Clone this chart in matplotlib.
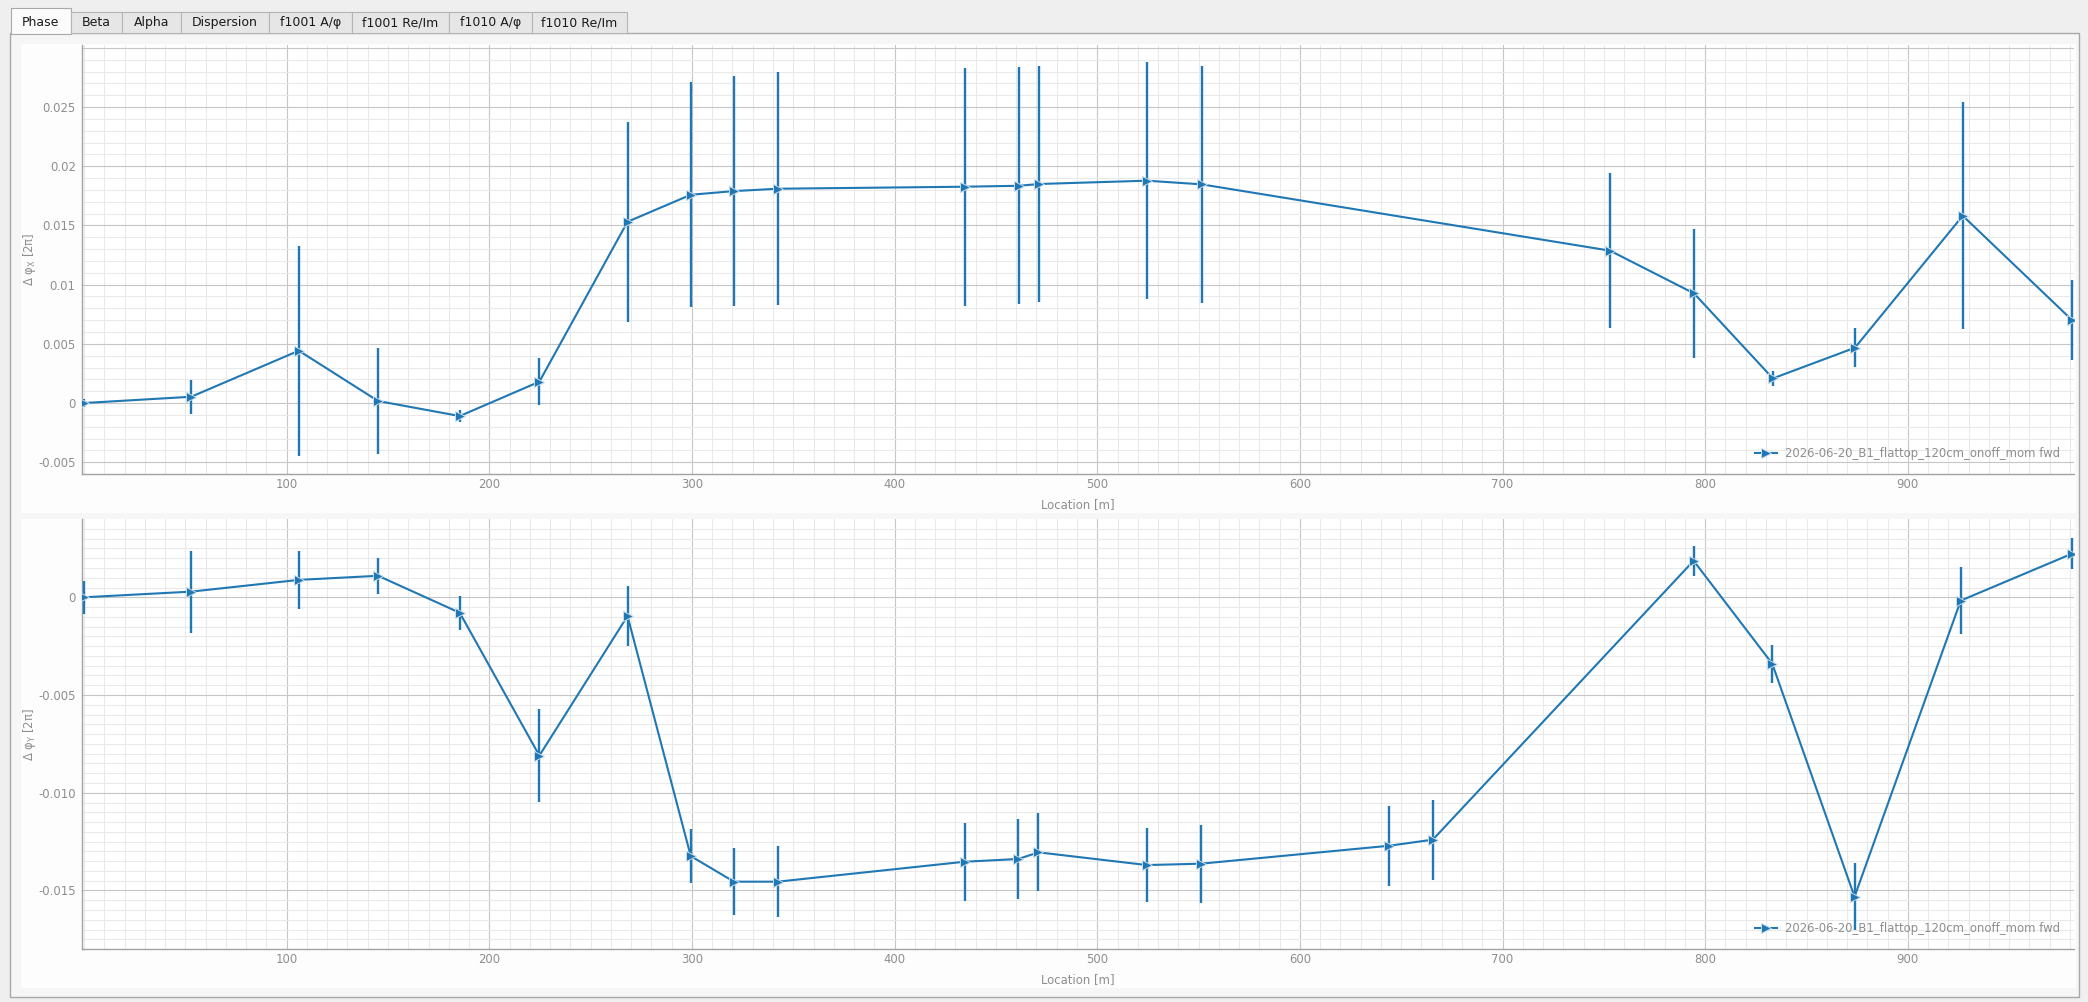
import matplotlib
matplotlib.use("Agg")
import matplotlib.pyplot as plt
from matplotlib.patches import Rectangle
from matplotlib.ticker import FixedLocator, FixedFormatter, MultipleLocator

# horizontal phase difference
x_loc = [0, 52.9, 106.0, 145.1, 185.4, 224.7, 268.2, 299.4, 320.7, 342.3,
         434.6, 461.3, 471.3, 524.5, 551.5, 753.0, 794.5, 833.4, 873.9, 927.1, 981.0]
x_dphi = [0.0, 0.00053, 0.00442, 0.00017, -0.0011, 0.0018, 0.01531, 0.01759, 0.0179, 0.0181,
          0.01827, 0.01835, 0.0185, 0.01878, 0.01847, 0.01287, 0.00926, 0.00208, 0.00467, 0.01582, 0.00701]
x_err = [0.0003, 0.00143, 0.00886, 0.00445, 0.0005, 0.00197, 0.00843, 0.00952, 0.00974, 0.00982,
         0.01004, 0.01, 0.01, 0.01, 0.01, 0.00656, 0.00543, 0.0006, 0.00164, 0.0096, 0.00334]

# vertical phase difference
y_loc = [0, 52.9, 106.0, 145.1, 185.4, 224.7, 268.2, 299.4, 320.7, 342.3,
         434.5, 461.0, 471.0, 524.5, 551.2, 644.2, 665.6, 794.3, 833.1, 873.7, 926.1, 981.0]
y_dphi = [0.0, 0.00029, 0.00089, 0.0011, -0.00079, -0.0081, -0.00096, -0.01324, -0.01455, -0.01455,
          -0.01353, -0.01339, -0.01305, -0.0137, -0.01363, -0.01271, -0.0124,
          0.00187, -0.0034, -0.01532, -0.00017, 0.00223]
y_err = [0.00083, 0.0021, 0.00149, 0.00091, 0.00087, 0.00236, 0.00155, 0.00138, 0.00173, 0.00183,
         0.002, 0.00204, 0.002, 0.00191, 0.00199, 0.00205, 0.00204,
         0.00076, 0.00097, 0.0017, 0.0017, 0.0008]

label = "2026-06-20_B1_flattop_120cm_onoff_mom fwd"
tabs = ["Phase", "Beta", "Alpha", "Dispersion", "f1001 A/φ", "f1001 Re/Im", "f1010 A/φ", "f1010 Re/Im"]
tab_edges = [10.5, 70.5, 121.5, 181, 269, 352, 449, 532, 627]

xticks = [100, 200, 300, 400, 500, 600, 700, 800, 900]
top_yticks = [-0.005, 0, 0.005, 0.01, 0.015, 0.02, 0.025, 0.03]
top_ylabels = ['-0.005', '0', '0.005', '0.01', '0.015', '0.02', '0.025', '']
bot_yticks = [-0.015, -0.01, -0.005, 0]
bot_ylabels = ['-0.015', '-0.010', '-0.005', '0']

W, H = 2088, 1002
blue = '#1f77b4'
gray_txt = '#8e8e8e'
fs = 8.4

fig = plt.figure(figsize=(W / 100, H / 100), dpi=100, facecolor='#efefef')


def box(x0, y0, x1, y1, fc, ec='none', lw=1.0):
    # pixel coords from top-left, drawn behind the axes
    r = Rectangle((x0 / W, 1 - y1 / H), (x1 - x0) / W, (y1 - y0) / H,
                  transform=fig.transFigure, facecolor=fc, edgecolor=ec, lw=lw, zorder=-5)
    fig.add_artist(r)


# panel + canvases
box(10, 33, 2079, 997, '#f6f6f6', '#a9a9a9', 1.0)
box(21, 44, 2076, 513, '#fdfdfd')
box(21, 519, 2076, 988, '#fdfdfd')

# tab bar
for i, name in enumerate(tabs):
    x0, x1 = tab_edges[i], tab_edges[i + 1]
    if i == 0:
        box(x0, 8, x1, 34, '#fbfbfb', '#a9a9a9', 0.8)
    else:
        box(x0, 12, x1, 33, '#e6e6e6', '#b4b4b4', 0.8)
    fig.text((x0 + x1) / 2 / W, 1 - 22.5 / H, name, ha='center', va='center',
             fontsize=9, color='#1a1a1a')


def make_axes(top, bottom, xs, ys, es, yt, yl, ylim, yminor, ylab):
    ax = fig.add_axes([82 / W, 1 - bottom / H, (2074 - 82) / W, (bottom - top) / H])
    ax.set_facecolor('white')
    ax.set_axisbelow(True)
    ax.errorbar(xs, ys, yerr=es, fmt='none', ecolor=blue, elinewidth=1.7, capsize=0, zorder=3)
    ax.plot(xs, ys, color=blue, lw=1.5, marker='>', markersize=7.5,
            markeredgecolor='#c9dcec', markeredgewidth=0.7, label=label, zorder=4)
    ax.set_xlim(-1, 982)
    ax.set_ylim(*ylim)
    ax.xaxis.set_major_locator(FixedLocator(xticks))
    ax.xaxis.set_major_formatter(FixedFormatter([str(t) for t in xticks]))
    ax.xaxis.set_minor_locator(MultipleLocator(10))
    ax.yaxis.set_major_locator(FixedLocator(yt))
    ax.yaxis.set_major_formatter(FixedFormatter(yl))
    ax.yaxis.set_minor_locator(MultipleLocator(yminor))
    ax.grid(which='major', color='#c6c6c6', lw=0.8)
    ax.grid(which='minor', color='#e9e9e9', lw=0.75)
    ax.tick_params(which='both', length=0, labelsize=fs, labelcolor=gray_txt)
    ax.tick_params(axis='y', pad=4.5)
    ax.tick_params(axis='x', pad=3)
    for s in ['top', 'right']:
        ax.spines[s].set_visible(False)
    for s in ['left', 'bottom']:
        ax.spines[s].set_color('#a2a2a2')
        ax.spines[s].set_linewidth(1.0)
    ax.set_xlabel('Location [m]', fontsize=fs, color=gray_txt, va='center')
    ax.xaxis.set_label_coords(0.5, -30.5 / (bottom - top))
    ax.set_ylabel(ylab, fontsize=fs, color=gray_txt, va='center')
    ax.yaxis.set_label_coords(-53 / 1992, 0.5)
    leg = ax.legend(loc='center right', bbox_to_anchor=(1978 / 1992, 21 / (bottom - top)),
                    frameon=False, fontsize=fs, borderpad=0, borderaxespad=0,
                    handlelength=1.9, handletextpad=0.7)
    for t in leg.get_texts():
        t.set_color(gray_txt)
    return ax


make_axes(45, 474.3, x_loc, x_dphi, x_err, top_yticks, top_ylabels,
          (-0.00602, 0.03024), 0.001, r'Δ φ$_\mathrm{X}$ [2π]')
make_axes(519.3, 949.3, y_loc, y_dphi, y_err, bot_yticks, bot_ylabels,
          (-0.01801, 0.00399), 0.0005, r'Δ φ$_\mathrm{Y}$ [2π]')

fig.savefig('out.png', dpi=100, facecolor=fig.get_facecolor())
